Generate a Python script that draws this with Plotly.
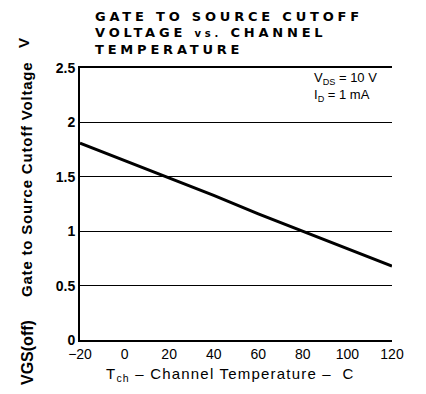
import plotly.graph_objects as go

temps = [-20, 0, 20, 40, 60, 80, 100, 120]
vgs_off = [1.81, 1.65, 1.49, 1.33, 1.16, 1.00, 0.84, 0.68]
x_ticks = [-20, 0, 20, 40, 60, 80, 100, 120]
x_tick_labels = ["−20", "0", "20", "40", "60", "80", "100", "120"]
y_ticks = [0, 0.5, 1, 1.5, 2, 2.5]
y_tick_labels = ["0", "0.5", "1", "1.5", "2", "2.5"]

FONT = "Liberation Sans"

# page offset: browser body margin is 8px
fig = go.Figure()
fig.add_trace(go.Scatter(x=temps, y=vgs_off, mode="lines",
                         line=dict(color="black", width=3), showlegend=False,
                         hoverinfo="skip"))

fig.update_layout(
    width=418, height=386,
    margin=dict(l=72, r=34, t=60, b=54),
    paper_bgcolor="white", plot_bgcolor="white",
    font=dict(family=FONT, color="black", size=14),
    xaxis=dict(range=[-20, 120], tickvals=x_ticks, ticktext=x_tick_labels,
               showgrid=False, zeroline=False, showline=True, mirror=True,
               linecolor="black", linewidth=2, ticks="", automargin=False,
               tickfont=dict(size=14, family=FONT)),
    yaxis=dict(range=[0, 2.5], tickvals=y_ticks, ticktext=y_tick_labels,
               showgrid=True, gridcolor="black", gridwidth=1.3,
               zeroline=False, showline=True, linecolor="black", linewidth=2,
               ticks="", automargin=False,
               tickfont=dict(size=14, family=FONT + ", sans-serif", weight="bold")),
)


def px(x):
    return (x - 80) / 312


def py(y):
    return (340 - y) / 272


ann = []
title_lines = ["<b>GATE TO SOURCE CUTOFF</b>",
               "<b>VOLTAGE <span style='font-size:10px'>vs.</span> CHANNEL</b>",
               "<b>TEMPERATURE</b>"]
title_y = [16.5, 32.5, 49.5]
for t, yy in zip(title_lines, title_y):
    ann.append(dict(text="<span style='letter-spacing:3.8px'>" + t + "</span>",
                    xref="paper", yref="paper", x=px(93),
                    y=py(yy), xanchor="left", yanchor="middle",
                    showarrow=False, font=dict(size=13, family="DejaVu Sans")))

ylab_font = dict(size=15, family=FONT)
ann.append(dict(text="<span style='letter-spacing:0.8px'><b>Gate to Source Cutoff Voltage</b></span>",
                xref="paper", yref="paper",
                x=px(26), y=py(180), textangle=-90,
                xanchor="center", yanchor="middle", showarrow=False,
                font=ylab_font))
ann.append(dict(text="<b>VGS(off)</b>",
                xref="paper", yref="paper",
                x=px(27), y=py(353), textangle=-90,
                xanchor="center", yanchor="middle", showarrow=False,
                font=dict(size=16, family=FONT)))
ann.append(dict(text="<b>V</b>", xref="paper", yref="paper",
                x=px(23), y=py(43), textangle=-90,
                xanchor="center", yanchor="middle", showarrow=False,
                font=ylab_font))
ann.append(dict(text="<span style='letter-spacing:1.2px'>T<sub>ch</sub> – Channel Temperature –  C</span>",
                xref="paper", yref="paper",
                x=px(230), y=py(374),
                xanchor="center", yanchor="middle", showarrow=False,
                font=dict(size=15)))
ann.append(dict(text="V<sub>DS</sub> = 10 V", xref="paper", yref="paper",
                x=px(312), y=py(79),
                xanchor="left", yanchor="middle", showarrow=False,
                font=dict(size=13)))
ann.append(dict(text="I<sub>D</sub> = 1 mA", xref="paper", yref="paper",
                x=px(312), y=py(95),
                xanchor="left", yanchor="middle", showarrow=False,
                font=dict(size=13)))
fig.update_layout(annotations=ann)

fig.write_html("out.html")
